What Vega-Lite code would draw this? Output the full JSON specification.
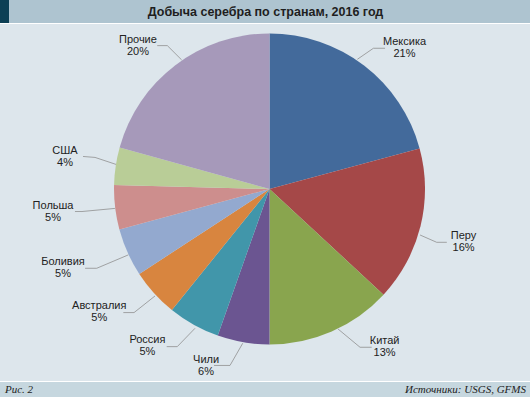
{
  "$schema": "https://vega.github.io/schema/vega-lite/v6.json",
  "padding": 0,
  "background": "#ffffff",
  "spacing": 1,
  "config": {"view": {"stroke": null}, "concat": {"spacing": 0}},
  "datasets": {
    "slices": [
      {"country": "Мексика", "ord": 1, "share": 20.8},
      {"country": "Перу", "ord": 2, "share": 16.1},
      {"country": "Китай", "ord": 3, "share": 13.1},
      {"country": "Чили", "ord": 4, "share": 5.4},
      {"country": "Россия", "ord": 5, "share": 5.4},
      {"country": "Австралия", "ord": 6, "share": 5.0},
      {"country": "Боливия", "ord": 7, "share": 5.0},
      {"country": "Польша", "ord": 8, "share": 4.6},
      {"country": "США", "ord": 9, "share": 3.9},
      {"country": "Прочие", "ord": 10, "share": 20.7}
    ],
    "labels": [
      {"label": "Мексика\n21%", "lx": 0.868, "ly": 0.913},
      {"label": "Перу\n16%", "lx": 1.248, "ly": -0.334},
      {"label": "Китай\n13%", "lx": 0.740, "ly": -1.013},
      {"label": "Чили\n6%", "lx": -0.408, "ly": -1.132},
      {"label": "Россия\n5%", "lx": -0.785, "ly": -1.003},
      {"label": "Австралия\n5%", "lx": -1.095, "ly": -0.788},
      {"label": "Боливия\n5%", "lx": -1.328, "ly": -0.505},
      {"label": "Польша\n5%", "lx": -1.392, "ly": -0.141},
      {"label": "США\n4%", "lx": -1.315, "ly": 0.209},
      {"label": "Прочие\n20%", "lx": -0.846, "ly": 0.926}
    ],
    "leaders": [
      {"c": "Мексика", "i": 1, "px": 0.743, "py": 0.905},
      {"c": "Мексика", "i": 2, "px": 0.668, "py": 0.905},
      {"c": "Мексика", "i": 3, "px": 0.565, "py": 0.834},
      {"c": "Перу", "i": 1, "px": 1.140, "py": -0.343},
      {"c": "Перу", "i": 2, "px": 1.075, "py": -0.343},
      {"c": "Перу", "i": 3, "px": 0.968, "py": -0.296},
      {"c": "Китай", "i": 1, "px": 0.657, "py": -1.018},
      {"c": "Китай", "i": 2, "px": 0.582, "py": -1.018},
      {"c": "Китай", "i": 3, "px": 0.440, "py": -0.900},
      {"c": "Чили", "i": 1, "px": -0.357, "py": -1.135},
      {"c": "Чили", "i": 2, "px": -0.254, "py": -1.135},
      {"c": "Чили", "i": 3, "px": -0.172, "py": -0.992},
      {"c": "Россия", "i": 1, "px": -0.661, "py": -1.014},
      {"c": "Россия", "i": 2, "px": -0.593, "py": -1.014},
      {"c": "Россия", "i": 3, "px": -0.479, "py": -0.896},
      {"c": "Австралия", "i": 1, "px": -0.940, "py": -0.795},
      {"c": "Австралия", "i": 2, "px": -0.871, "py": -0.795},
      {"c": "Австралия", "i": 3, "px": -0.736, "py": -0.688},
      {"c": "Боливия", "i": 1, "px": -1.186, "py": -0.510},
      {"c": "Боливия", "i": 2, "px": -1.111, "py": -0.510},
      {"c": "Боливия", "i": 3, "px": -0.908, "py": -0.424},
      {"c": "Польша", "i": 1, "px": -1.251, "py": -0.145},
      {"c": "Польша", "i": 2, "px": -1.206, "py": -0.145},
      {"c": "Польша", "i": 3, "px": -0.994, "py": -0.125},
      {"c": "США", "i": 1, "px": -1.199, "py": 0.209},
      {"c": "США", "i": 2, "px": -1.122, "py": 0.203},
      {"c": "США", "i": 3, "px": -0.987, "py": 0.158},
      {"c": "Прочие", "i": 1, "px": -0.722, "py": 0.922},
      {"c": "Прочие", "i": 2, "px": -0.657, "py": 0.922},
      {"c": "Прочие", "i": 3, "px": -0.565, "py": 0.830}
    ]
  },
  "vconcat": [
    {
      "hconcat": [
        {
          "width": 9, "height": 23,
          "view": {"fill": "#0d4055", "stroke": null},
          "data": {"values": [{}]},
          "mark": {"type": "text"},
          "encoding": {"text": {"value": ""}}
        },
        {
          "width": 521, "height": 23,
          "view": {"fill": "#aec4d0", "stroke": null},
          "data": {"values": [{"t": "Добыча серебра по странам, 2016 год"}]},
          "mark": {"type": "text", "font": "Liberation Sans", "fontWeight": "bold", "fontSize": 12.5, "color": "#1e1e1e", "baseline": "middle", "align": "center", "dx": -4},
          "encoding": {"text": {"field": "t"}}
        }
      ]
    },
    {
      "width": 530, "height": 357,
      "view": {"fill": "#dde6ec", "stroke": null},
      "layer": [
        {
          "data": {"name": "slices"},
          "mark": {"type": "arc", "outerRadius": 155.5, "stroke": null},
          "encoding": {
            "x": {"datum": 0, "type": "quantitative", "scale": {"domain": [-1.733, 1.675], "nice": false, "zero": false}, "axis": null},
            "y": {"datum": 0, "type": "quantitative", "scale": {"domain": [-1.235, 1.061], "nice": false, "zero": false}, "axis": null},
            "theta": {"field": "share", "type": "quantitative", "stack": true},
            "order": {"field": "ord", "type": "quantitative"},
            "color": {
              "field": "country", "type": "nominal", "legend": null,
              "scale": {
                "domain": ["Мексика", "Перу", "Китай", "Чили", "Россия", "Австралия", "Боливия", "Польша", "США", "Прочие"],
                "range": ["#436a9b", "#a54848", "#89a54e", "#6b5591", "#4196aa", "#d8853f", "#93a9cf", "#cd8e8d", "#b9cd97", "#a699ba"]
              }
            }
          }
        },
        {
          "data": {"name": "leaders"},
          "mark": {"type": "line", "color": "#8f8f8f", "strokeWidth": 0.8},
          "encoding": {
            "x": {"field": "px", "type": "quantitative"},
            "y": {"field": "py", "type": "quantitative"},
            "detail": {"field": "c"},
            "order": {"field": "i", "type": "quantitative"}
          }
        },
        {
          "data": {"name": "labels"},
          "mark": {"type": "text", "font": "Liberation Sans", "fontSize": 11, "color": "#222222", "lineBreak": "\n", "lineHeight": 12, "align": "center", "baseline": "middle", "dy": -5},
          "encoding": {
            "x": {"field": "lx", "type": "quantitative"},
            "y": {"field": "ly", "type": "quantitative"},
            "text": {"field": "label"}
          }
        }
      ]
    },
    {
      "width": 530, "height": 15,
      "view": {"fill": "#c6d7df", "stroke": null},
      "data": {"values": [{"left": "Рис. 2", "right": "Источники: USGS, GFMS"}]},
      "layer": [
        {
          "mark": {"type": "text", "font": "Liberation Serif", "fontStyle": "italic", "fontSize": 11, "color": "#222222", "align": "left", "baseline": "middle", "x": 5},
          "encoding": {"text": {"field": "left"}}
        },
        {
          "mark": {"type": "text", "font": "Liberation Serif", "fontStyle": "italic", "fontSize": 11, "color": "#222222", "align": "right", "baseline": "middle", "x": 526},
          "encoding": {"text": {"field": "right"}}
        }
      ]
    }
  ]
}
